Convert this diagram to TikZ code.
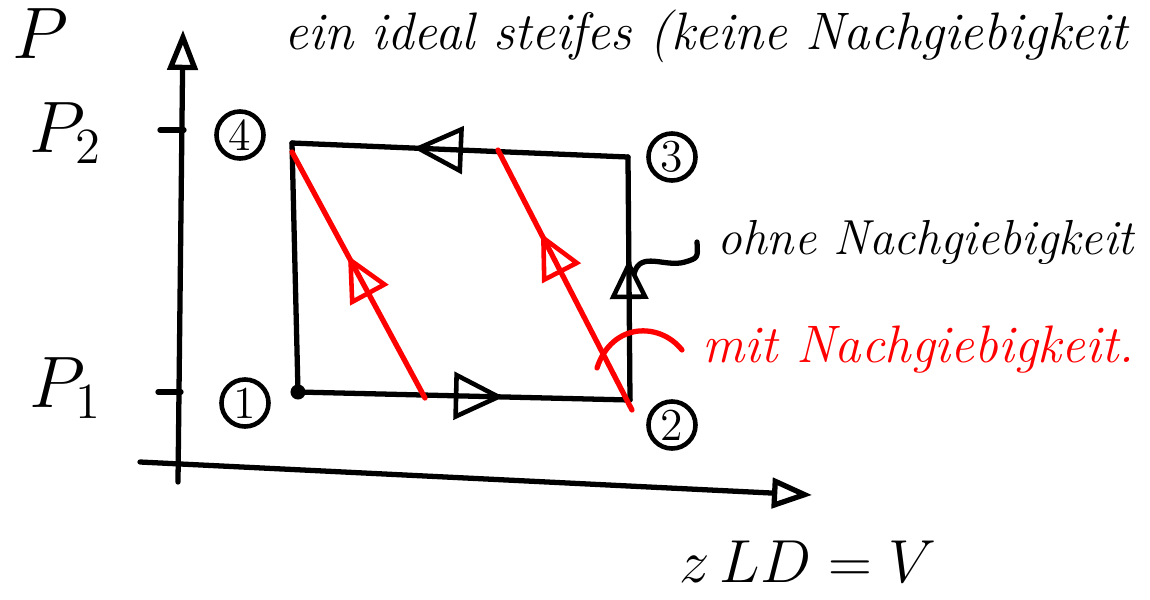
\documentclass[tikz,border=0pt]{standalone}
\usepackage{amsmath, amssymb}
\usetikzlibrary{arrows.meta, decorations.markings}

\tikzset{
  strich/.style={line width=1.5pt, line cap=round, line join=round},
  zustand/.style={circle, draw, line width=1.3pt, inner sep=0pt, minimum size=0.47cm, font=\fontsize{13}{15}\selectfont},
  schrift/.style={font=\fontsize{15}{18}\selectfont\itshape},
  richtung/.style 2 args={postaction={decorate}, decoration={markings,
      mark=at position #1 with {\arrow[line width=1.3pt]{Triangle[open, length=#2, width=0.95*#2]}}}}
}

\begin{document}
\begin{tikzpicture}[x=0.01cm, y=-0.01cm]
  \useasboundingbox (0,0) rectangle (1150,599);

  % Achsen
  \coordinate (x0) at (140,462);
  \coordinate (xe) at (812,495);
  \coordinate (y0) at (178,482);
  \coordinate (ye) at (183,30);
  \draw[strich, -{Triangle[open, length=4mm, width=3mm]}] (x0) -- (xe);
  \draw[strich, -{Triangle[open, length=4mm, width=3mm]}] (y0) -- (ye);

  % Striche und Beschriftung
  \draw[strich] (160,130) -- (184,130);
  \draw[strich] (158,392) -- (181,392);
  \node (P) at (40,34) {\fontsize{20}{24}\selectfont$P$};
  \node (P2) at (66,133) {\fontsize{20}{24}\selectfont$P_2$};
  \node (P1) at (66,388) {\fontsize{20}{24}\selectfont$P_1$};

  % Kreisprozess
  \coordinate (p1) at (298,392);
  \coordinate (p2) at (630,400);
  \coordinate (p3) at (628,157);
  \coordinate (p4) at (292,143);
  \draw[strich, richtung={0.62}{5mm}] (p1) -- (p2);
  \draw[strich, richtung={0.58}{4mm}] (p2) -- (p3);
  \draw[strich, richtung={0.64}{5mm}] (p3) -- (p4);
  \draw[strich] (p4) -- (p1);
  \fill (p1) circle[radius=0.075cm];

  % mit Nachgiebigkeit
  \coordinate (r1) at (425,398);
  \coordinate (r4) at (292,152);
  \coordinate (r2) at (632,410);
  \coordinate (r3) at (498,150);
  \draw[strich, red, richtung={0.58}{4.5mm}] (r1) -- (r4);
  \draw[strich, red, richtung={0.68}{4.5mm}] (r2) -- (r3);

  % Zustaende
  \node[zustand] (z4) at (240,135) {4};
  \node[zustand] (z3) at (672,157) {3};
  \node[zustand] (z1) at (245,403) {1};
  \node[zustand] (z2) at (672,425) {2};

  % Texte
  \node[schrift, anchor=west, inner sep=0pt] (titel) at (284,36) {ein ideal steifes (keine Nachgiebigkeit};
  \node[schrift, font=\fontsize{14}{17}\selectfont\itshape, anchor=west, inner sep=2mm] (ohne) at (697,242) {ohne Nachgiebigkeit};
  \node[schrift, red, anchor=west, inner sep=2mm] (mit) at (682,350) {mit Nachgiebigkeit.};
  \node (vol) at (808,562) {\fontsize{18}{22}\selectfont$z\,LD = V$};

  % Hinweise
  \coordinate (k3) at (634,274);
  \coordinate (rm) at (597,368);
  \draw[strich] (k3) .. controls (640,250) and (665,268) .. (685,262) .. controls (698,258) .. (ohne.west);
  \draw[strich, red] (rm) .. controls (612,322) and (660,322) .. (mit.west);
\end{tikzpicture}
\end{document}
